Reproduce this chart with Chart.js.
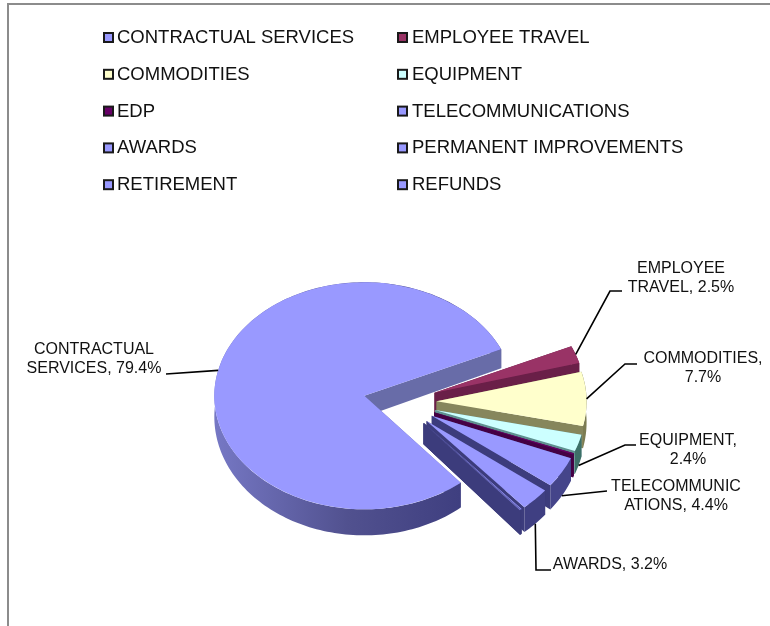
<!DOCTYPE html>
<html>
<head>
<meta charset="utf-8">
<title>Expenditures</title>
<script src="https://cdn.jsdelivr.net/npm/chart.js@4"></script>
<style>
  html, body { margin: 0; padding: 0; background: #fff; }
  #wrap { position: relative; width: 770px; height: 626px; }
</style>
</head>
<body>
<div id="wrap"><canvas id="pie-chart" width="770" height="626"></canvas></div>
<script>
var categories = ["CONTRACTUAL SERVICES","EMPLOYEE TRAVEL","COMMODITIES","EQUIPMENT","EDP",
                  "TELECOMMUNICATIONS","AWARDS","PERMANENT IMPROVEMENTS","RETIREMENT","REFUNDS"];
var shares = [79.4,2.5,7.7,2.4,0.2,4.4,3.2,0.1,0.05,0.05];

var topColors  = ["#9999ff","#993366","#ffffcc","#ccffff","#660066","#9999ff","#9999ff","#9999ff","#9999ff","#9999ff"];
var wallColors = ["#686ca8","#6a1f48","#86865c","#5f9090","#440044","#3c3c7c","#3c3c7c","#3c3c7c","#3c3c7c","#3c3c7c"];
var rimColors  = ["#565696","#661a40","#7c7c52","#3d7068","#440044","#45458a","#3f3f82","#3c3c7c","#3c3c7c","#3c3c7c"];

// data labels: text lines, centre x, first line's middle y, and the leader's elbow points
var calloutLines = [
  { slice: 0, lines: ["CONTRACTUAL","SERVICES, 79.4%"], x: 94,  y: 349, elbow: [[166,374]], drop: false },
  { slice: 1, lines: ["EMPLOYEE","TRAVEL, 2.5%"],       x: 681, y: 268, elbow: [[622,291],[610,291]], drop: false },
  { slice: 2, lines: ["COMMODITIES,","7.7%"],           x: 703, y: 358, elbow: [[637,364],[625,364]], drop: false },
  { slice: 3, lines: ["EQUIPMENT,","2.4%"],             x: 688, y: 440, elbow: [[636,445],[625,445]], drop: true },
  { slice: 5, lines: ["TELECOMMUNIC","ATIONS, 4.4%"],   x: 676, y: 486, elbow: [[607,491]], drop: true },
  { slice: 6, lines: ["AWARDS, 3.2%"],                  x: 610, y: 564, elbow: [[551,570],[536,570]], drop: true }
];

var squash = 0.757;      // vertical foreshortening of the pie's top face
var explode = 36.6;      // pull-out of every slice, in pixels

// side height grows towards the viewer
function depthAt(angle) {
  return 21 + 5 * Math.sin(angle);
}

function slicePoint(arc, angle, extra) {
  var mid = (arc.startAngle + arc.endAngle) / 2;
  return {
    x: arc.x + explode * Math.cos(mid) + extra * Math.cos(angle),
    y: arc.y + squash * (explode * Math.sin(mid) + extra * Math.sin(angle))
  };
}

function drawWall(ctx, arc, i, a) {
  var apex = slicePoint(arc, 0, 0);
  var rim = slicePoint(arc, a, arc.outerRadius);
  ctx.fillStyle = wallColors[i];
  ctx.beginPath();
  ctx.moveTo(apex.x, apex.y);
  ctx.lineTo(rim.x, rim.y);
  ctx.lineTo(rim.x, rim.y + depthAt(a));
  ctx.lineTo(apex.x, apex.y + 21);
  ctx.closePath();
  ctx.fill();
}

// curved outer band, walked along the arc
function drawBand(ctx, arc, i) {
  var R = arc.outerRadius;
  var steps = Math.max(4, Math.ceil((arc.endAngle - arc.startAngle) * 40));
  var k, a, p;
  if (i === 0) {
    var g = ctx.createLinearGradient(arc.x - 190, 0, arc.x + 60, 0);
    g.addColorStop(0, "#7779c6");
    g.addColorStop(0.55, "#51518f");
    g.addColorStop(1, "#3f3f80");
    ctx.fillStyle = g;
  } else {
    ctx.fillStyle = rimColors[i];
  }
  ctx.beginPath();
  for (k = 0; k <= steps; k++) {
    a = arc.startAngle + (arc.endAngle - arc.startAngle) * k / steps;
    p = slicePoint(arc, a, R);
    ctx.lineTo(p.x, p.y);
  }
  for (k = steps; k >= 0; k--) {
    a = arc.startAngle + (arc.endAngle - arc.startAngle) * k / steps;
    p = slicePoint(arc, a, R);
    ctx.lineTo(p.x, p.y + depthAt(a));
  }
  ctx.closePath();
  ctx.fill();
}

function drawTop(ctx, arc) {
  var mid = (arc.startAngle + arc.endAngle) / 2;
  ctx.save();
  ctx.translate(arc.x, arc.y);
  ctx.scale(1, squash);
  ctx.translate(-arc.x + explode * Math.cos(mid), -arc.y + explode * Math.sin(mid));
  arc.draw(ctx);
  ctx.restore();
}

// replaces the flat dataset pass with an exploded, extruded pie
var extrudedPie = {
  id: "extrudedPie",
  beforeDatasetsDraw: function (chart) {
    var ctx = chart.ctx;
    chart.getDatasetMeta(0).data.forEach(function (arc, i) {
      // the big slice wraps round, so its far cut face has to sit over the band
      drawWall(ctx, arc, i, arc.startAngle);
      drawBand(ctx, arc, i);
      drawWall(ctx, arc, i, arc.endAngle);
      drawTop(ctx, arc);
    });
    return false;
  }
};

var sideLegend = {
  id: "sideLegend",
  afterDraw: function (chart) {
    var ctx = chart.ctx;
    var colors = chart.data.datasets[0].backgroundColor;
    ctx.save();
    ctx.font = "18.5px 'Liberation Sans'";
    ctx.textBaseline = "middle";
    ctx.textAlign = "left";
    chart.data.labels.forEach(function (label, i) {
      var col = i % 2, row = Math.floor(i / 2);
      var x = col === 0 ? 104 : 398;
      var y = 37.5 + row * 36.8;
      ctx.fillStyle = colors[i];
      ctx.fillRect(x, y - 4.5, 9, 9);
      ctx.strokeStyle = "#1a1a1a";
      ctx.lineWidth = 2;
      ctx.strokeRect(x, y - 4.5, 9, 9);
      ctx.fillStyle = "#111";
      ctx.fillText(label, x + (col === 0 ? 13 : 14), y + 0.5);
    });
    ctx.restore();
  }
};

var callouts = {
  id: "callouts",
  afterDraw: function (chart) {
    var ctx = chart.ctx;
    var arcs = chart.getDatasetMeta(0).data;
    ctx.save();
    ctx.font = "16px 'Liberation Sans'";
    ctx.textBaseline = "middle";
    ctx.textAlign = "center";
    calloutLines.forEach(function (c) {
      var arc = arcs[c.slice];
      var mid = (arc.startAngle + arc.endAngle) / 2;
      var rim = slicePoint(arc, mid, arc.outerRadius);
      ctx.strokeStyle = "#000";
      ctx.lineWidth = 1.6;
      ctx.beginPath();
      c.elbow.forEach(function (pt, k) {
        if (k === 0) ctx.moveTo(pt[0], pt[1]); else ctx.lineTo(pt[0], pt[1]);
      });
      ctx.lineTo(rim.x, rim.y + (c.drop ? depthAt(mid) : 0));
      ctx.stroke();
      ctx.fillStyle = "#111";
      c.lines.forEach(function (t, k) {
        ctx.fillText(t, c.x, c.y + 0.5 + k * 18.6);
      });
    });
    ctx.restore();
  }
};

// grey frame along the top and left
var frame = {
  id: "frame",
  beforeDraw: function (chart) {
    var ctx = chart.ctx;
    ctx.fillStyle = "#8c8c8c";
    ctx.fillRect(7, 3, 763, 2);
    ctx.fillRect(7, 3, 2, 623);
  }
};

new Chart(document.getElementById("pie-chart"), {
  type: "pie",
  data: {
    labels: categories,
    datasets: [{
      data: shares,
      backgroundColor: topColors,
      borderWidth: 0,
      hoverOffset: 0
    }]
  },
  plugins: [frame, extrudedPie, sideLegend, callouts],
  options: {
    responsive: false,
    animation: false,
    rotation: 140,
    layout: { padding: { left: 250, right: 220, top: 252, bottom: 74 } },
    plugins: {
      legend: { display: false },
      tooltip: { enabled: false },
      title: { display: false }
    }
  }
});
</script>
</body>
</html>
